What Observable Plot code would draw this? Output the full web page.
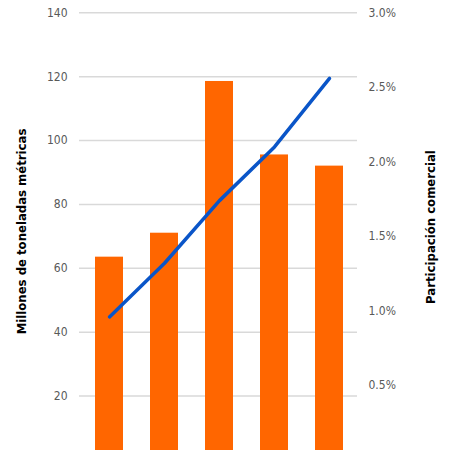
<!DOCTYPE html>
<html>
<head>
<meta charset="utf-8">
<script src="https://cdn.jsdelivr.net/npm/d3@7"></script>
<script src="https://cdn.jsdelivr.net/npm/@observablehq/plot@0.6"></script>
<style>
  html, body { margin: 0; padding: 0; background: #fff; overflow: hidden; }
  svg text { font-stretch: condensed; }
</style>
</head>
<body>
<div id="chart"></div>
<script>
// Volume (million metric tons) and trade share (%) by year
const years = ["2014", "2015", "2016", "2017", "2018"];
const volumes = [63.5, 71, 118.5, 95.5, 92];
const shares = [0.96, 1.32, 1.74, 2.10, 2.56];

const leftTicks = [20, 40, 60, 80, 100, 120, 140];
const rightTicks = [0.5, 1.0, 1.5, 2.0, 2.5, 3.0];

const leftTitle = "Millones de toneladas métricas";
const rightTitle = "Participación comercial";

// The share axis is mapped onto the volume scale: 3.0% lines up with 140
const yMax = 140, shareMax = 3.0;
const toLeft = s => s * yMax / shareMax;

const barRows = years.map((year, i) => ({year, volume: volumes[i]}));
const lineRows = years.map((year, i) => ({year, share: toLeft(shares[i])}));

const font = "'DejaVu Sans Condensed', 'DejaVu Sans', sans-serif";

const chart = Plot.plot({
  width: 450,
  height: 450,
  marginLeft: 79,
  marginRight: 93,
  marginTop: 12,
  marginBottom: 0,
  style: {fontFamily: font, fontSize: "12px", color: "#595959", background: "#fff"},
  x: {type: "band", domain: years, range: [66.6, 370.5], padding: 0.5, axis: null},
  y: {domain: [0, yMax], range: [459.5, 12.3]},
  marks: [
    Plot.ruleY(leftTicks, {stroke: "#d9d9d9", strokeWidth: 1.5}),
    Plot.barY(barRows, {x: "year", y: "volume", fill: "#ff6600"}),
    Plot.line(lineRows, {x: "year", y: "share", stroke: "#0a55c8", strokeWidth: 3.5, strokeLinecap: "round"}),
    Plot.axisY(leftTicks, {anchor: "left", tickSize: 0, tickPadding: 12, label: null}),
    Plot.axisY(rightTicks.map(toLeft), {
      anchor: "right", tickSize: 0, tickPadding: 11, label: null,
      tickFormat: d => (d * shareMax / yMax).toFixed(1) + "%"
    }),
    Plot.text([leftTitle], {
      frameAnchor: "left", textAnchor: "middle", rotate: -90, dx: -58, text: d => d,
      fill: "#000", fontWeight: "bold", fontSize: 13
    }),
    Plot.text([rightTitle], {
      frameAnchor: "right", textAnchor: "middle", rotate: -90, dx: 73.5, dy: -4.5, text: d => d,
      fill: "#000", fontWeight: "bold", fontSize: 13
    })
  ]
});

document.getElementById("chart").appendChild(chart);
</script>
</body>
</html>
